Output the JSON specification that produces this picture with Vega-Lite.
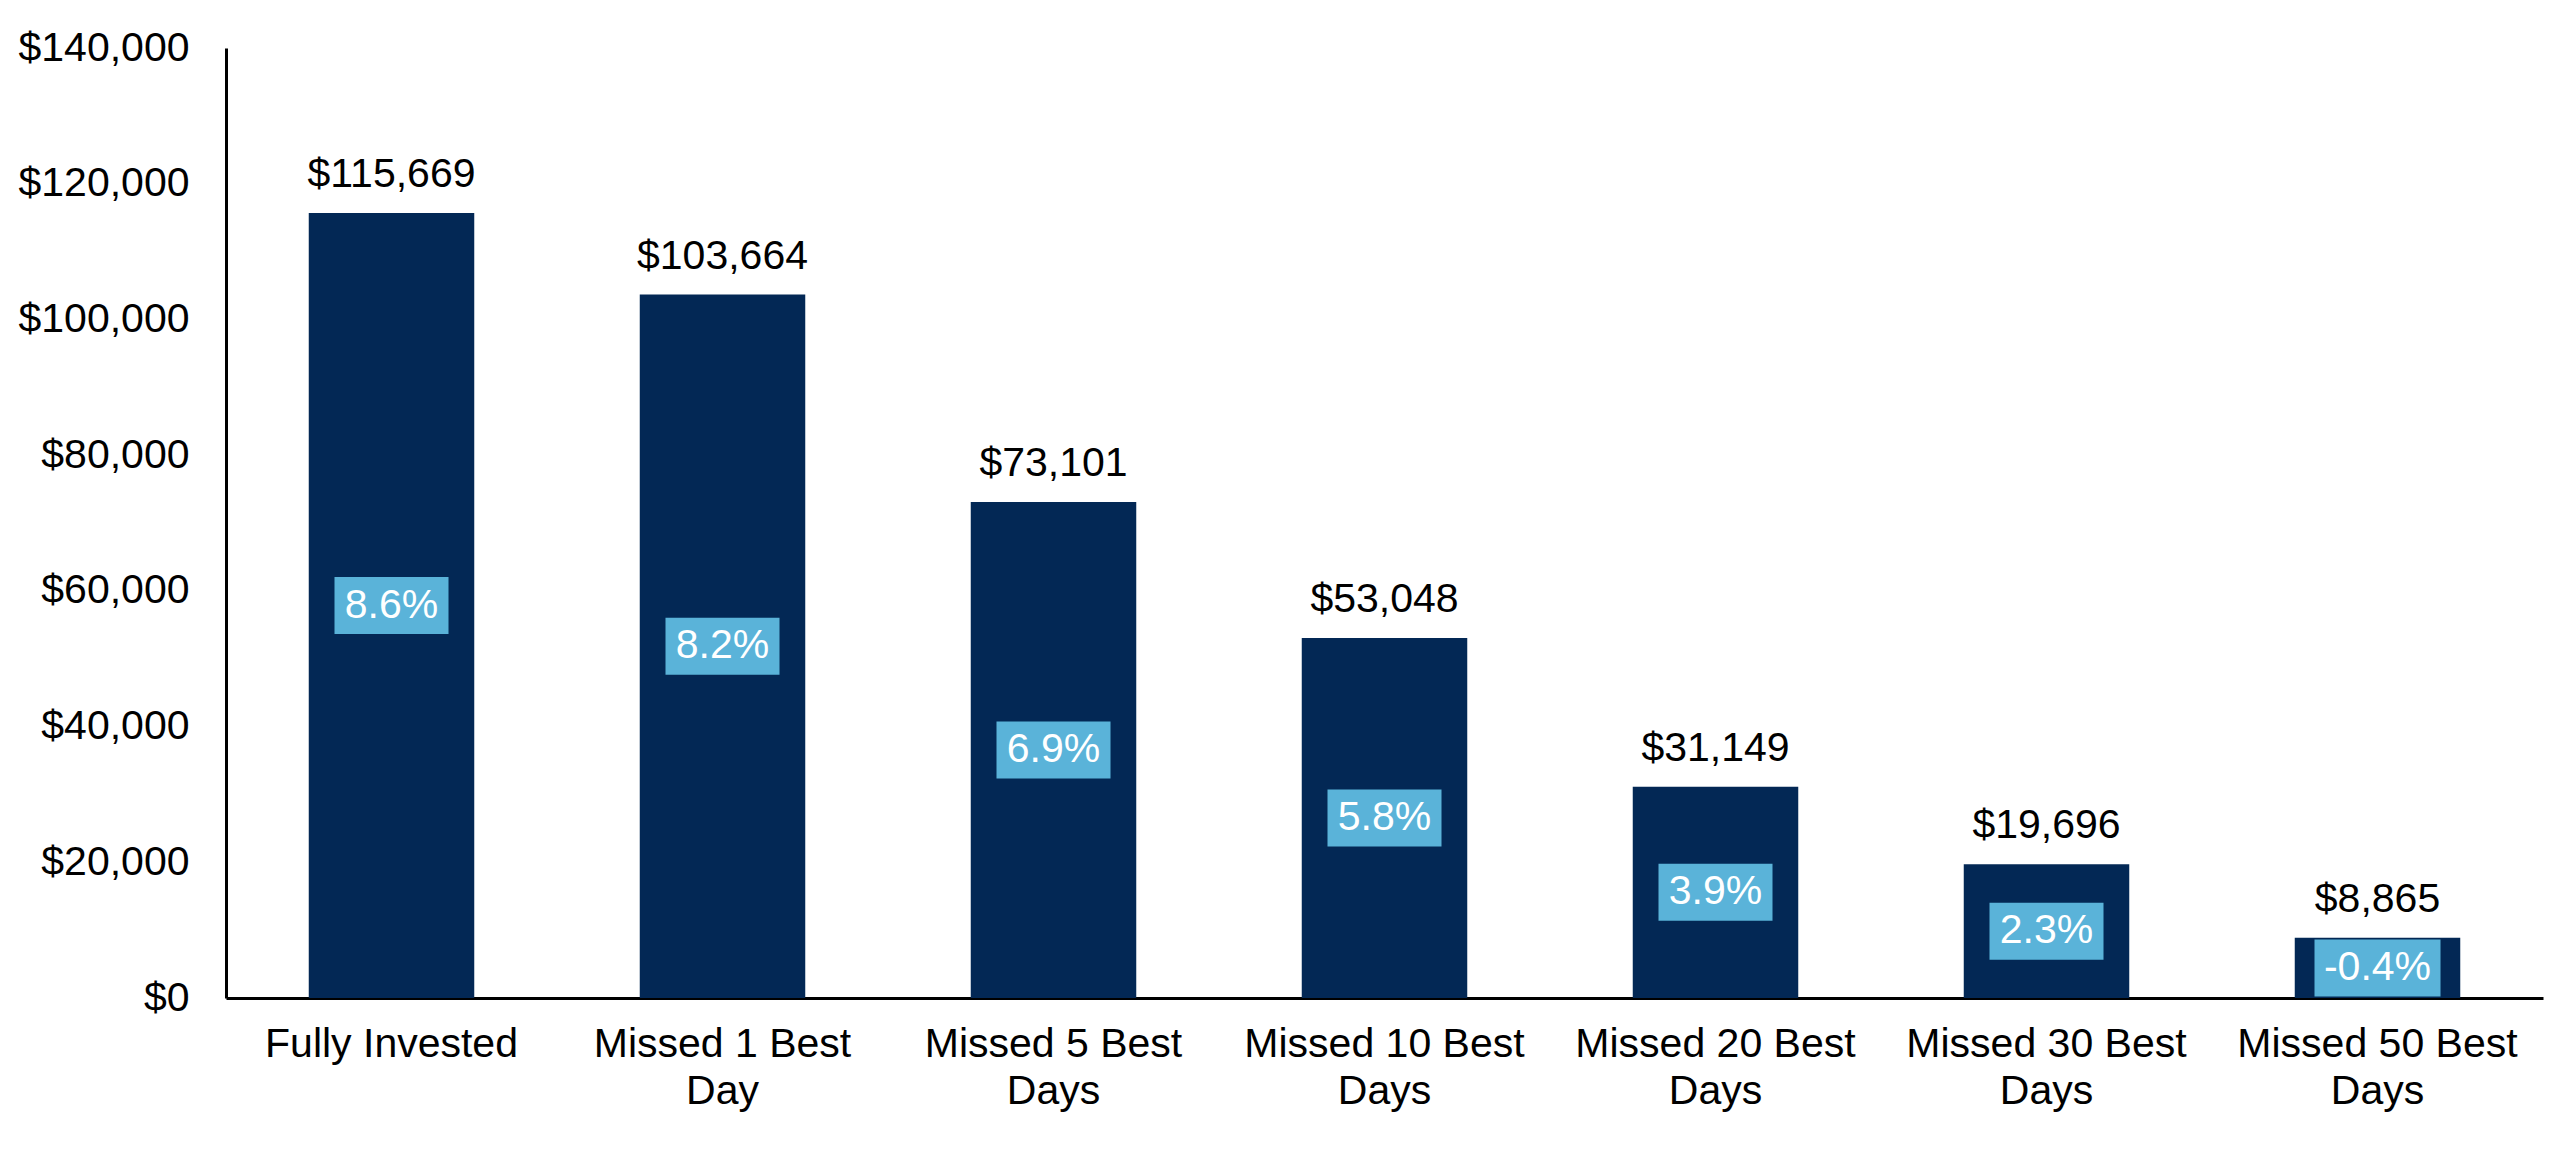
{
  "$schema": "https://vega.github.io/schema/vega-lite/v6.json",
  "description": "Growth of $10,000 - fully invested vs missing the best days",
  "autosize": "none",
  "width": 2317,
  "height": 950,
  "padding": {"left": 226, "top": 48, "right": 17, "bottom": 173},
  "background": "white",
  "config": {
    "view": {"stroke": null},
    "font": "Liberation Sans",
    "text": {"font": "Liberation Sans"}
  },
  "data": {
    "values": [
      {"scenario": "Fully Invested", "value": 115669, "ret": 8.6},
      {"scenario": "Missed 1 Best Day", "value": 103664, "ret": 8.2},
      {"scenario": "Missed 5 Best Days", "value": 73101, "ret": 6.9},
      {"scenario": "Missed 10 Best Days", "value": 53048, "ret": 5.8},
      {"scenario": "Missed 20 Best Days", "value": 31149, "ret": 3.9},
      {"scenario": "Missed 30 Best Days", "value": 19696, "ret": 2.3},
      {"scenario": "Missed 50 Best Days", "value": 8865, "ret": -0.4}
    ]
  },
  "transform": [
    {"calculate": "datum.value / 2", "as": "mid"},
    {"calculate": "(datum.ret < 0 ? '-' : '') + format(abs(datum.ret), '.1f') + '%'", "as": "retLabel"}
  ],
  "encoding": {
    "x": {
      "field": "scenario",
      "type": "nominal",
      "sort": null,
      "scale": {"paddingInner": 0.5, "paddingOuter": 0.25},
      "axis": {
        "title": null,
        "labelAngle": 0,
        "labelFont": "Liberation Sans",
        "labelFontSize": 41,
        "labelColor": "black",
        "labelPadding": 26,
        "labelLineHeight": 47,
        "labelLimit": 0,
        "labelExpr": "datum.label == 'Fully Invested' ? datum.label : [substring(datum.label, 0, lastindexof(datum.label, ' ')), substring(datum.label, lastindexof(datum.label, ' ') + 1)]",
        "ticks": false,
        "domainColor": "black",
        "domainWidth": 3
      }
    }
  },
  "layer": [
    {
      "mark": {"type": "bar", "color": "#032855"},
      "encoding": {
        "y": {
          "field": "value",
          "type": "quantitative",
          "scale": {"domain": [0, 140000], "nice": false},
          "axis": {
            "title": null,
            "values": [0, 20000, 40000, 60000, 80000, 100000, 120000, 140000],
            "format": "$,.0f",
            "labelFont": "Liberation Sans",
            "labelFontSize": 41,
            "labelColor": "black",
            "labelPadding": 37,
            "ticks": false,
            "grid": false,
            "domainColor": "black",
            "domainWidth": 3
          }
        }
      }
    },
    {
      "mark": {
        "type": "text",
        "baseline": "alphabetic",
        "align": "center",
        "dy": -26,
        "fontSize": 41,
        "color": "black"
      },
      "encoding": {
        "y": {"field": "value", "type": "quantitative"},
        "text": {"field": "value", "type": "quantitative", "format": "$,.0f"}
      }
    },
    {
      "mark": {"type": "tick", "thickness": 57, "color": "#5AB3D9", "opacity": 1},
      "encoding": {
        "y": {"field": "mid", "type": "quantitative"},
        "size": {"condition": {"test": "datum.ret < 0", "value": 126}, "value": 114}
      }
    },
    {
      "mark": {
        "type": "text",
        "baseline": "middle",
        "align": "center",
        "fontSize": 41,
        "color": "white"
      },
      "encoding": {
        "y": {"field": "mid", "type": "quantitative"},
        "text": {"field": "retLabel", "type": "nominal"}
      }
    }
  ]
}
